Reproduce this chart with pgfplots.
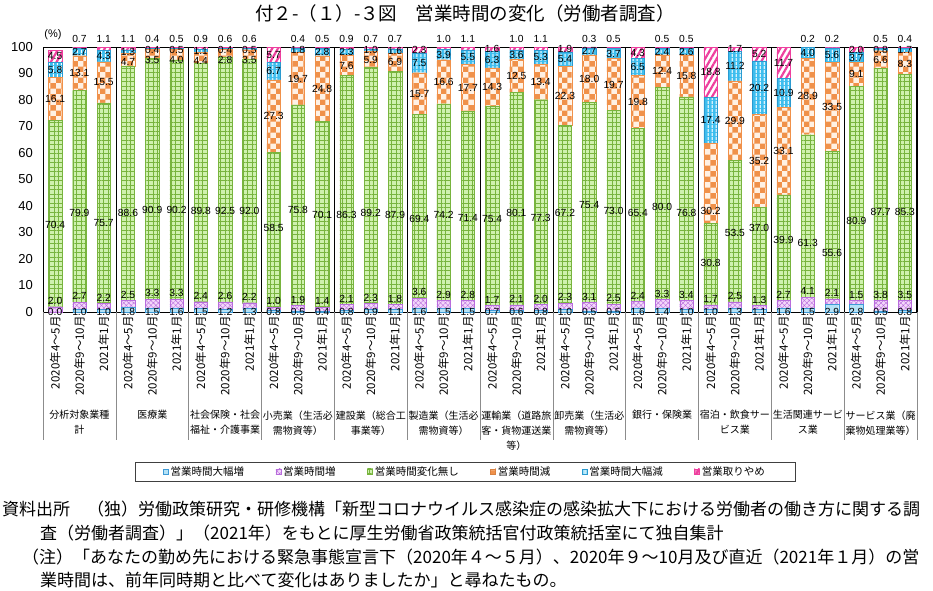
\documentclass[border=0pt]{standalone}
\usepackage{fontspec}
\setmainfont{Liberation Sans}
\newfontfamily\cjk{Noto Sans CJK JP}
\usepackage{pgfplots}
\pgfplotsset{compat=1.18}
\usepackage{pgfplotstable}
\usetikzlibrary{patterns,patterns.meta}

\definecolor{aF}{HTML}{B4E2F6}\definecolor{aD}{HTML}{3E9AD6}
\definecolor{bF}{HTML}{F3D6FA}\definecolor{bD}{HTML}{B86CDC}
\definecolor{cF}{HTML}{CFF1AE}\definecolor{cD}{HTML}{78B43E}
\definecolor{dF}{HTML}{FFF1E4}\definecolor{dD}{HTML}{F0914A}
\definecolor{eF}{HTML}{3CBDEE}\definecolor{eD}{HTML}{2A9AD0}
\definecolor{fF}{HTML}{FFFFFF}\definecolor{fD}{HTML}{EE3F9E}

\pgfplotstableread{
x a b c d e f yb yc yd ye yf
0 0.0 2.0 70.4 16.1 5.8 4.5 4.2 32.9 80.45 91.4 96.55
1 1.0 2.7 79.9 13.1 2.7 0.7 5.9 37.5 90.15 98.05 103.2
2 1.0 2.2 75.7 15.5 4.3 1.1 5.4 33.7 86.65 96.55 103.2
3 1.8 2.5 88.6 4.7 1.3 1.1 6.5 37.5 94.45 98.25 103.2
4 1.5 3.3 90.9 3.5 0.4 0.4 7.0 38.6 95.2 99.0 103.2
5 1.6 3.3 90.2 4.0 0.5 0.5 7.1 38.6 95.2 99.0 103.2
6 1.5 2.4 89.8 4.4 1.1 0.9 6.1 38.2 94.85 98.65 103.2
7 1.2 2.6 92.5 2.8 0.4 0.6 6.0 38.2 95.2 99.0 103.2
8 1.3 2.2 92.0 3.5 0.5 0.6 5.7 38.2 95.2 99.0 103.2
9 0.8 1.0 58.5 27.3 6.7 5.7 4.0 31.8 73.95 90.95 97.15
10 0.5 1.9 75.8 19.7 1.8 0.4 4.6 38.6 88.05 98.8 103.2
11 0.4 1.4 70.1 24.8 2.8 0.5 4.0 36.7 84.3 98.1 103.2
12 0.8 2.1 86.3 7.6 2.3 0.9 5.1 36.7 93.0 97.95 103.2
13 0.9 2.3 89.2 5.9 1.0 0.7 5.4 37.5 95.0 98.8 103.2
14 1.1 1.8 87.9 6.9 1.6 0.7 5.1 36.7 94.25 98.5 103.2
15 1.6 3.6 69.4 15.7 7.5 2.3 7.4 35.2 82.45 94.05 98.95
16 1.5 2.9 74.2 16.6 3.9 1.0 6.6 36.7 86.9 97.15 103.2
17 1.5 2.8 71.4 17.7 5.5 1.1 6.5 35.6 84.55 96.15 103.2
18 0.7 1.7 75.4 14.3 6.3 1.6 4.6 35.2 84.95 95.25 99.2
19 0.6 2.1 80.1 12.5 3.6 1.0 4.9 37.5 89.05 97.1 103.2
20 0.8 2.0 77.3 13.4 5.3 1.1 5.0 35.6 86.8 96.15 103.2
21 1.0 2.3 67.2 22.3 5.4 1.9 5.5 37.5 81.65 95.5 99.15
22 0.5 3.1 75.4 18.0 2.7 0.3 5.8 40.5 88.0 98.35 103.2
23 0.5 2.5 73.0 19.7 3.7 0.5 5.2 38.2 85.85 97.55 103.2
24 1.6 2.4 65.4 19.8 6.5 4.3 6.2 37.5 79.3 92.45 97.85
25 1.4 3.3 80.0 12.4 2.4 0.5 6.9 39.7 90.9 98.3 103.2
26 1.0 3.4 76.8 15.8 2.6 0.5 6.6 37.5 89.1 98.3 103.2
27 1.0 1.7 30.8 30.2 17.4 18.8 4.9 18.5 38.2 72.4 90.5
28 1.3 2.5 53.5 29.9 11.2 1.7 6.0 29.9 72.25 92.8 99.25
29 1.1 1.3 37.0 35.2 20.2 5.2 4.6 31.8 57.0 84.7 97.4
30 1.6 2.7 39.9 33.1 10.9 11.7 6.5 27.2 60.75 82.75 94.05
31 1.5 4.1 61.3 28.9 4.0 0.2 7.8 26.1 81.35 97.8 103.2
32 2.9 2.1 55.6 33.5 5.6 0.2 7.2 22.3 77.35 96.9 103.2
33 2.8 1.5 80.9 9.1 3.7 2.0 6.5 34.4 89.75 95.7 99.0
34 0.5 3.8 87.7 6.6 0.8 0.5 6.5 37.8 95.2 99.0 103.2
35 0.8 3.5 85.3 8.3 1.7 0.4 6.5 37.8 93.75 98.75 103.2
}\data

\pgfplotsset{
  geom/.style={at={(43pt,278pt)}, anchor=south west, scale only axis,
    width=874pt, height=265pt, xmin=-0.5, xmax=35.5, ymin=0, ymax=100,
    enlargelimits=false},
  lab/.style={draw=none, mark=none, nodes near coords, point meta=explicit symbolic,
    every node near coord/.append style={font=\fontsize{10.3}{10.3}\selectfont, anchor=center, inner sep=0pt}},
}

\begin{document}
\begin{tikzpicture}
\useasboundingbox (0,0) rectangle (933pt,590pt);

\begin{axis}[geom,
  ybar stacked, bar width=0.55,
  axis line style={black, line width=0.8pt},
  major tick length=0pt,
  ytick={0,10,...,100},
  /pgf/number format/assume math mode=true,
  yticklabel style={font=\fontsize{13}{13}\selectfont, inner sep=0pt, xshift=-10pt},
  xtick={0,...,35},
  xticklabels={2020年4～5月,2020年9～10月,2021年1月,2020年4～5月,2020年9～10月,2021年1月,2020年4～5月,2020年9～10月,2021年1月,2020年4～5月,2020年9～10月,2021年1月,2020年4～5月,2020年9～10月,2021年1月,2020年4～5月,2020年9～10月,2021年1月,2020年4～5月,2020年9～10月,2021年1月,2020年4～5月,2020年9～10月,2021年1月,2020年4～5月,2020年9～10月,2021年1月,2020年4～5月,2020年9～10月,2021年1月,2020年4～5月,2020年9～10月,2021年1月,2020年4～5月,2020年9～10月,2021年1月},
  x tick label style={rotate=90, anchor=east, font=\cjk\fontsize{11.5}{12}\selectfont, inner sep=4pt},
  legend columns=6,
  legend style={at={(0.4828,-0.602)}, anchor=center, draw=black!75, inner xsep=28pt, inner ysep=2pt,
    font=\cjk\fontsize{10.5}{12}\selectfont, /tikz/every even column/.append style={column sep=29.5pt}},
]
\addplot[fill=aF, draw=aD, line width=0.3pt,
  legend image code/.code={\draw[draw=aD, fill=aF] (0pt,-2.6pt) rectangle (5.2pt,2.6pt);}]
  table[x=x,y=a]{\data};
\addlegendentry{営業時間大幅増}
\addplot[fill=bF, draw=bD, line width=0.3pt,
  postaction={pattern={Hatch[angle=45,distance=3.5pt,line width=0.4pt]}, pattern color=bD},
  legend image code/.code={\draw[draw=bD, fill=bF] (0pt,-2.6pt) rectangle (5.2pt,2.6pt);}]
  table[x=x,y=b]{\data};
\addlegendentry{営業時間増}
\addplot[fill=cF, draw=cD, line width=0.4pt,
  postaction={pattern={Hatch[angle=0,distance=4.5pt,line width=0.6pt]}, pattern color=cD},
  legend image code/.code={\draw[draw=cD, fill=cF] (0pt,-2.6pt) rectangle (5.2pt,2.6pt);}]
  table[x=x,y=c]{\data};
\addlegendentry{営業時間変化無し}
\addplot[fill=dF, draw=dD, line width=0.3pt,
  postaction={pattern=checkerboard, pattern color=dD},
  legend image code/.code={\draw[draw=dD!90!black, fill=dD!70] (0pt,-2.6pt) rectangle (5.2pt,2.6pt);}]
  table[x=x,y=d]{\data};
\addlegendentry{営業時間減}
\addplot[fill=eF, draw=eD, line width=0.3pt,
  postaction={pattern={Lines[angle=90,distance=4pt,line width=1.1pt]}, pattern color=white},
  legend image code/.code={\draw[draw=eD, fill=eF!50] (0pt,-2.6pt) rectangle (5.2pt,2.6pt);}]
  table[x=x,y=e]{\data};
\addlegendentry{営業時間大幅減}
\addplot[fill=fF, draw=fD, line width=0.3pt,
  postaction={pattern={Lines[angle=60,distance=5pt,line width=2.2pt]}, pattern color=fD},
  legend image code/.code={\draw[draw=fD, fill=fD!70] (0pt,-2.6pt) rectangle (5.2pt,2.6pt);}]
  table[x=x,y=f]{\data};
\addlegendentry{営業取りやめ}
\end{axis}

\begin{axis}[geom, hide axis, clip=false]
\addplot[lab] table[x=x, y expr=0, meta=a]{\data};
\addplot[lab] table[x=x, y=yb, meta=b]{\data};
\addplot[lab] table[x=x, y=yc, meta=c]{\data};
\addplot[lab] table[x=x, y=yd, meta=d]{\data};
\addplot[lab] table[x=x, y=ye, meta=e]{\data};
\addplot[lab] table[x=x, y=yf, meta=f]{\data};

\node[font=\fontsize{11}{11}\selectfont] at (axis cs:-0.09,104.8) {(\%)};

\draw[black, line width=0.6pt]
  (axis cs:2.5,0)--(axis cs:2.5,100) (axis cs:5.5,0)--(axis cs:5.5,100)
  (axis cs:8.5,0)--(axis cs:8.5,100) (axis cs:11.5,0)--(axis cs:11.5,100)
  (axis cs:14.5,0)--(axis cs:14.5,100) (axis cs:17.5,0)--(axis cs:17.5,100)
  (axis cs:20.5,0)--(axis cs:20.5,100) (axis cs:23.5,0)--(axis cs:23.5,100)
  (axis cs:26.5,0)--(axis cs:26.5,100) (axis cs:29.5,0)--(axis cs:29.5,100)
  (axis cs:32.5,0)--(axis cs:32.5,100);
\draw[black, line width=1.4pt] (axis cs:35.5,0)--(axis cs:35.5,100);
\draw[black!45, line width=0.6pt]
  (axis cs:-0.5,0)--(axis cs:-0.5,-48.4)
  (axis cs:2.5,0)--(axis cs:2.5,-48.4) (axis cs:5.5,0)--(axis cs:5.5,-48.4)
  (axis cs:8.5,0)--(axis cs:8.5,-48.4) (axis cs:11.5,0)--(axis cs:11.5,-48.4)
  (axis cs:14.5,0)--(axis cs:14.5,-48.4) (axis cs:17.5,0)--(axis cs:17.5,-48.4)
  (axis cs:20.5,0)--(axis cs:20.5,-48.4) (axis cs:23.5,0)--(axis cs:23.5,-48.4)
  (axis cs:26.5,0)--(axis cs:26.5,-48.4) (axis cs:29.5,0)--(axis cs:29.5,-48.4)
  (axis cs:32.5,0)--(axis cs:32.5,-48.4) (axis cs:35.5,0)--(axis cs:35.5,-48.4);

\begin{scope}[every node/.style={anchor=north, align=center, inner sep=0pt, font=\cjk\fontsize{10}{15}\selectfont}]
\node at (axis cs:1,-37.1) {分析対象業種\\計};
\node at (axis cs:4,-37.1) {医療業};
\node at (axis cs:7,-37.1) {社会保険・社会\\福祉・介護事業};
\node at (axis cs:10,-37.1) {小売業（生活必\\需物資等）};
\node at (axis cs:13,-37.1) {建設業（総合工\\事業等）};
\node at (axis cs:16,-37.1) {製造業（生活必\\需物資等）};
\node at (axis cs:19,-37.1) {運輸業（道路旅\\客・貨物運送業\\等）};
\node at (axis cs:22,-37.1) {卸売業（生活必\\需物資等）};
\node at (axis cs:25,-37.1) {銀行・保険業};
\node at (axis cs:28,-37.1) {宿泊・飲食サー\\ビス業};
\node at (axis cs:31,-37.1) {生活関連サービ\\ス業};
\node at (axis cs:34,-37.1) {サービス業（廃\\棄物処理業等）};
\end{scope}
\end{axis}

\node[font=\cjk\fontsize{18.5}{18.5}\selectfont] at (465pt,577pt) {付２-（１）-３図　営業時間の変化（労働者調査）};

\begin{scope}[every node/.style={anchor=west, inner sep=0pt, font=\cjk\fontsize{17}{17}\selectfont}]
\node at (2pt,81pt) {資料出所　（独）労働政策研究・研修機構「新型コロナウイルス感染症の感染拡大下における労働者の働き方に関する調};
\node at (40pt,57pt) {査（労働者調査）」（2021年）をもとに厚生労働省政策統括官付政策統括室にて独自集計};
\node at (22pt,33pt) {（注）「あなたの勤め先における緊急事態宣言下（2020年４～５月）、2020年９～10月及び直近（2021年１月）の営};
\node at (40pt,10pt) {業時間は、前年同時期と比べて変化はありましたか」と尋ねたもの。};
\end{scope}
\end{tikzpicture}
\end{document}
